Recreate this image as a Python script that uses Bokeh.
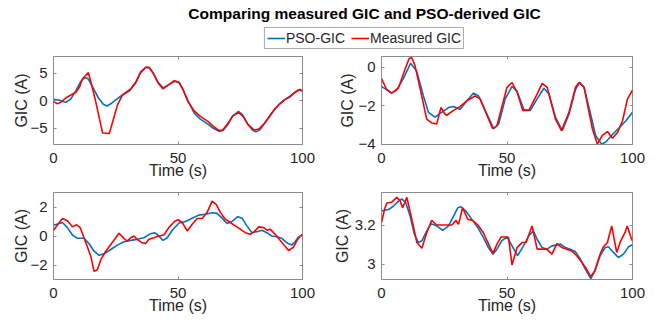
from bokeh.plotting import figure
from bokeh.models import LinearAxis, FixedTicker, Legend, LegendItem, Range1d
from bokeh.layouts import column, row
from bokeh.embed import file_html
from bokeh.resources import INLINE

# ---- data: time (s) and GIC (A) for four stations ----
# station A
t_pso_a = [0, 2, 5, 7, 9, 11, 12.7, 14, 16, 18, 20, 21.5, 23, 25, 27.7, 30.4, 33, 35, 37, 38.5, 40, 42, 44, 46,
           48.7, 50.5, 52, 54, 56.5, 59, 62, 64, 66.5, 68, 70, 72, 74.3, 76, 78, 80, 81.3, 83, 85, 87.3, 89,
           91, 93, 95, 97, 98.7, 100]
gic_pso_a = [0.2, 0.1, -0.35, 0.3, 1.8, 3.5, 4.2, 3.9, 2.2, 0.5, -0.7, -1.0, -0.6, 0.1, 1.0, 1.7, 3.2, 5.0, 6.0, 5.9,
             5.0, 3.3, 2.3, 2.8, 3.5, 3.2, 2.0, 0.0, -2.3, -3.4, -4.3, -5.0, -5.6, -5.5, -4.4, -2.8, -2.0, -2.6,
             -4.3, -5.4, -5.7, -5.3, -4.0, -2.6, -1.4, -0.5, 0.2, 0.65, 1.5, 2.0, 1.7]
t_meas_a = [0, 1.6, 3, 5, 7, 9, 10.5, 11.6, 14, 15.5, 17, 19.7, 22.4, 24, 25.7, 27.7, 31, 33, 35, 37.3, 38.5, 40,
            42, 44, 46, 48.5, 50.5, 52, 54, 56.5, 59, 62, 64, 66.5, 68, 70, 72, 74.3, 76, 78, 80.6, 82.5, 85,
            87.3, 89, 91, 93, 95, 97, 99, 100]
gic_meas_a = [-0.2, -0.6, -0.3, 0.5, 1.0, 1.5, 2.5, 3.9, 5.1, 2.5, -0.3, -5.9, -6.0, -3.5, -0.8, 1.0, 2.1, 3.3,
              5.2, 6.1, 6.0, 5.0, 3.2, 2.1, 2.8, 3.6, 3.3, 2.0, -0.2, -1.9, -2.9, -3.8, -4.6, -5.5, -5.3, -4.2,
              -2.8, -2.2, -2.8, -4.3, -5.4, -5.2, -4.0, -2.5, -1.5, -0.6, 0.2, 0.8, 1.5, 2.0, 1.7]

# station B
t_pso_b = [0, 4, 6, 8.7, 11.6, 14, 16.7, 18.7, 21.3, 24, 26.7, 28.7, 31.3, 34, 36.7, 38.7, 41.3, 44.7, 46.7,
           49.3, 52, 54, 56.7, 59.3, 62, 64.7, 66.7, 69.3, 72, 74.7, 77.3, 79, 80.7, 83.3, 85.3, 87.7, 89.3,
           92, 94.7, 97.3, 100]
gic_pso_b = [-1.0, -1.35, -1.2, -0.6, 0.2, -0.2, -1.5, -2.35, -2.6, -2.35, -2.1, -2.05, -2.2, -1.75, -1.35,
             -1.5, -2.25, -3.2, -2.95, -1.65, -1.0, -1.25, -2.2, -2.25, -1.65, -1.1, -1.4, -2.6, -3.3, -2.45,
             -1.15, -0.8, -1.05, -2.45, -3.55, -4.0, -3.9, -3.5, -3.15, -2.8, -2.35]
t_meas_b = [0, 2, 4, 6.7, 9, 11, 12, 13.3, 15.7, 18, 20, 22, 23.7, 25.3, 26, 28.7, 31.3, 34, 37.3, 39.3, 42,
            44.3, 46, 50, 52, 54, 56.3, 58.7, 62, 64, 66, 69.3, 71.7, 74.7, 77.3, 78.7, 80.7, 84, 86, 88, 90,
            92, 94, 96, 98, 100]
gic_meas_b = [-0.6, -1.15, -1.35, -1.1, -0.25, 0.45, 0.5, 0.1, -1.3, -2.7, -2.9, -2.95, -2.1, -2.45, -2.5,
              -2.25, -2.05, -1.75, -1.5, -1.65, -2.5, -3.2, -3.05, -1.05, -0.8, -1.3, -2.25, -2.25, -1.4,
              -0.85, -1.05, -2.7, -3.3, -2.35, -1.05, -0.8, -1.05, -3.2, -4.0, -3.55, -3.35, -3.7, -3.4,
              -2.8, -1.65, -1.2]

# station C
t_pso_c = [0, 3.6, 5.6, 7.6, 9.6, 12.3, 14.3, 16.3, 18.3, 20.3, 23, 25.6, 28.3, 31, 33.6, 36.3, 39, 40.6,
           42.3, 44, 45.7, 47.7, 50.3, 53, 55.7, 58.3, 61, 63.7, 65.7, 67.7, 69.7, 71.7, 74, 75.7, 77.7,
           79.7, 81.7, 83.7, 85.7, 87.7, 89.7, 91.7, 93.7, 95.7, 97, 98.4, 100]
gic_pso_c = [0.74, 0.93, 0.58, 0.07, -0.16, -0.16, -0.53, -1.05, -1.33, -1.23, -0.93, -0.63, -0.4, -0.3,
             -0.23, -0.12, 0.16, 0.23, 0.0, -0.3, -0.12, 0.4, 0.88, 1.0, 1.23, 1.44, 1.5, 1.6, 1.56, 1.23,
             0.86, 1.0, 1.33, 1.23, 0.7, 0.23, 0.3, 0.4, 0.23, 0.0, -0.05, -0.16, -0.47, -0.63, -0.4, -0.07,
             0.07]
t_meas_c = [0, 3.6, 5.6, 7.6, 9.3, 10.7, 13, 15, 16.3, 17.6, 19, 21, 23, 25, 26.3, 28.3, 29.6, 31, 32.3,
            33.6, 35.6, 37, 38.3, 40.3, 42.3, 44.3, 46.3, 48.6, 50, 51.7, 53.7, 55.7, 57.7, 59.7, 61.7, 63.7,
            65.4, 67, 69, 71, 73, 75, 77, 79, 80.6, 82.4, 84.4, 85.7, 87, 89, 91, 93, 94.4, 96.4, 98, 100]
gic_meas_c = [0.4, 1.21, 1.05, 0.63, 0.77, 0.58, -0.47, -1.4, -2.44, -2.33, -1.63, -1.05, -0.58, -0.12,
              0.19, -0.16, -0.35, -0.12, 0.0, -0.23, -0.47, -0.51, -0.23, -0.12, 0.0, 0.07, 0.58, 1.0, 1.12,
              0.93, 0.35, 0.81, 1.21, 1.21, 1.63, 2.4, 2.16, 1.63, 1.16, 0.93, 0.7, 0.47, 0.23, 0.12, 0.3,
              0.63, 0.58, 0.4, 0.47, 0.12, -0.3, -0.7, -1.0, -0.77, -0.23, 0.12]

# station D
t_pso_d = [0, 2.8, 4.8, 6.8, 8.1, 9.7, 11.4, 13.1, 14.7, 16.1, 18, 19.8, 22, 24.4, 26.7, 28.7, 30.4, 31.7,
           33.6, 36, 38.4, 40.6, 42.6, 44.4, 46, 47.9, 50, 54.2, 56.6, 58.6, 60.5, 62, 64, 65.9, 67.9, 69.9,
           71.3, 73.3, 75.2, 77.2, 79.2, 81.2, 83.4, 85.1, 87.1, 89.1, 90.4, 92.4, 94.4, 96.4, 98.4, 100]
gic_pso_d = [3.274, 3.282, 3.30, 3.325, 3.337, 3.316, 3.248, 3.154, 3.111, 3.12, 3.171, 3.209, 3.197, 3.174,
             3.197, 3.248, 3.291, 3.296, 3.274, 3.231, 3.188, 3.137, 3.085, 3.051, 3.077, 3.12, 3.14, 3.043,
             3.094, 3.145, 3.171, 3.128, 3.085, 3.077, 3.094, 3.099, 3.103, 3.085, 3.077, 3.065, 3.026,
             2.974, 2.925, 2.966, 3.043, 3.085, 3.089, 3.06, 3.034, 3.051, 3.089, 3.10]
t_meas_d = [0, 1.2, 2.1, 4.1, 6.1, 7.4, 8.4, 9.2, 10.1, 12.1, 14.1, 16.1, 18, 20, 22, 24, 26, 28, 29.7, 30.7,
            32.3, 34.4, 36.3, 38.4, 40.6, 43.3, 44.4, 46, 47.7, 49.9, 50.6, 52, 54, 56, 57.6, 60, 62, 64,
            65.9, 67.9, 69.9, 71.9, 73.8, 75.8, 77.8, 79.8, 81.7, 83.3, 85, 87.1, 88.4, 90, 91.7, 93.7, 95.3,
            97, 97.9, 99.4, 100]
gic_meas_d = [3.214, 3.282, 3.316, 3.32, 3.345, 3.328, 3.291, 3.316, 3.345, 3.231, 3.111, 3.082, 3.162,
              3.226, 3.202, 3.202, 3.202, 3.202, 3.226, 3.205, 3.291, 3.231, 3.226, 3.202, 3.162, 3.085,
              3.055, 3.103, 3.14, 3.14, 3.137, 2.995, 3.085, 3.111, 3.111, 3.197, 3.077, 3.077, 3.077,
              3.051, 3.106, 3.085, 3.077, 3.068, 3.043, 3.009, 2.974, 2.935, 2.966, 3.051, 3.089, 3.111,
              3.197, 3.06, 3.12, 3.162, 3.197, 3.137, 3.12]

time_ticks = [0, 50, 100]
gic_ticks_a = [-5, 0, 5]
gic_ticks_b = [-4, -2, 0]
gic_ticks_c = [-2, 0, 2]
gic_ticks_d = [3, 3.2]

title_text = "Comparing measured GIC and PSO-derived GIC"
series_names = ["PSO-GIC", "Measured GIC"]

# ---- styling ----
FONT = "Liberation Sans"
BLUE = "#0072BD"
RED = "#FF0000"
FRAME = "#8c8c8c"
TEXT = "#262626"
LW = 1.6


def style_axis(ax, ticks):
    ax.ticker = FixedTicker(ticks=ticks)
    ax.axis_line_color = None
    ax.major_tick_in = 3
    ax.major_tick_out = 0
    ax.major_tick_line_color = FRAME
    ax.minor_tick_line_color = None
    ax.major_label_text_font = FONT
    ax.major_label_text_font_size = "15px"
    ax.major_label_text_color = TEXT
    ax.axis_label_text_font = FONT
    ax.axis_label_text_font_size = "16px"
    ax.axis_label_text_font_style = "normal"
    ax.axis_label_text_color = TEXT


def mirror_axis(ticks):
    # tick marks only, on the opposite side of the box
    ax = LinearAxis(ticker=FixedTicker(ticks=ticks))
    ax.axis_line_color = None
    ax.major_tick_in = 3
    ax.major_tick_out = 0
    ax.major_tick_line_color = FRAME
    ax.minor_tick_line_color = None
    ax.major_label_standoff = 0
    ax.major_label_overrides = {t: "" for t in ticks}
    ax.major_label_text_font_size = "1px"
    return ax


def panel(t_p, v_p, t_m, v_m, y_lo, y_hi, yticks, width, height, bl, br, bt, bb, ylab_standoff):
    p = figure(width=width, height=height, x_range=Range1d(0, 100), y_range=Range1d(y_lo, y_hi),
               output_backend="svg", toolbar_location=None,
               min_border_left=bl, min_border_right=br, min_border_top=bt, min_border_bottom=bb)
    p.grid.visible = False
    p.outline_line_color = FRAME
    p.outline_line_width = 1
    p.background_fill_color = "white"
    p.border_fill_color = "white"
    p.line(t_p, v_p, line_color=BLUE, line_width=LW)
    p.line(t_m, v_m, line_color=RED, line_width=LW)

    style_axis(p.xaxis[0], time_ticks)
    p.xaxis[0].axis_label = "Time (s)"
    p.xaxis[0].major_label_standoff = 8
    p.xaxis[0].axis_label_standoff = -4

    style_axis(p.yaxis[0], yticks)
    p.yaxis[0].axis_label = "GIC (A)"
    p.yaxis[0].major_label_standoff = 6
    p.yaxis[0].axis_label_standoff = ylab_standoff

    p.add_layout(mirror_axis(time_ticks), "above")
    p.add_layout(mirror_axis(yticks), "right")
    return p


# header with title and shared legend
head = figure(width=658, height=52, x_range=Range1d(0, 1), y_range=Range1d(0, 1),
              output_backend="svg", toolbar_location=None, x_axis_type=None, y_axis_type=None,
              min_border_left=70, min_border_right=0, min_border_top=8, min_border_bottom=0)
head.grid.visible = False
head.outline_line_color = None
head.title.text = title_text
head.title.align = "center"
head.title.text_font = FONT
head.title.text_font_size = "15.5px"
head.title.text_font_style = "bold"
head.title.text_color = "#000000"
head.title.standoff = 4
# single-sample legend proxies (a one-point line draws nothing in the header)
r_pso = head.line(t_pso_a[:1], gic_pso_a[:1], line_color=BLUE, line_width=LW)
r_meas = head.line(t_meas_a[:1], gic_meas_a[:1], line_color=RED, line_width=LW)
legend = Legend(items=[LegendItem(label=series_names[0], renderers=[r_pso]),
                       LegendItem(label=series_names[1], renderers=[r_meas])],
                orientation="horizontal", location="center")
legend.label_text_font = FONT
legend.label_text_font_size = "14px"
legend.label_text_color = TEXT
legend.glyph_width = 18
legend.glyph_height = 16
legend.label_height = 16
legend.label_standoff = 1
legend.spacing = 6
legend.padding = 2
legend.margin = 0
legend.border_line_color = "#555555"
legend.border_line_width = 1
legend.background_fill_alpha = 1
head.add_layout(legend, "center")

pa = panel(t_pso_a, gic_pso_a, t_meas_a, gic_meas_a, -8, 8, gic_ticks_a, 329, 136, 53, 27, 4, 44, -3)
pb = panel(t_pso_b, gic_pso_b, t_meas_b, gic_meas_b, -4.02, 0.55, gic_ticks_b, 329, 136, 52, 26, 4, 44, -1)
pc = panel(t_pso_c, gic_pso_c, t_meas_c, gic_meas_c, -3, 3, gic_ticks_c, 329, 132, 53, 27, 4, 41, -3)
pd = panel(t_pso_d, gic_pso_d, t_meas_d, gic_meas_d, 2.92, 3.37, gic_ticks_d, 329, 132, 52, 26, 4, 41, 1)

layout = column(head, row(pa, pb, spacing=0), row(pc, pd, spacing=0), spacing=0)

open("out.html", "w").write(file_html(layout, INLINE))
